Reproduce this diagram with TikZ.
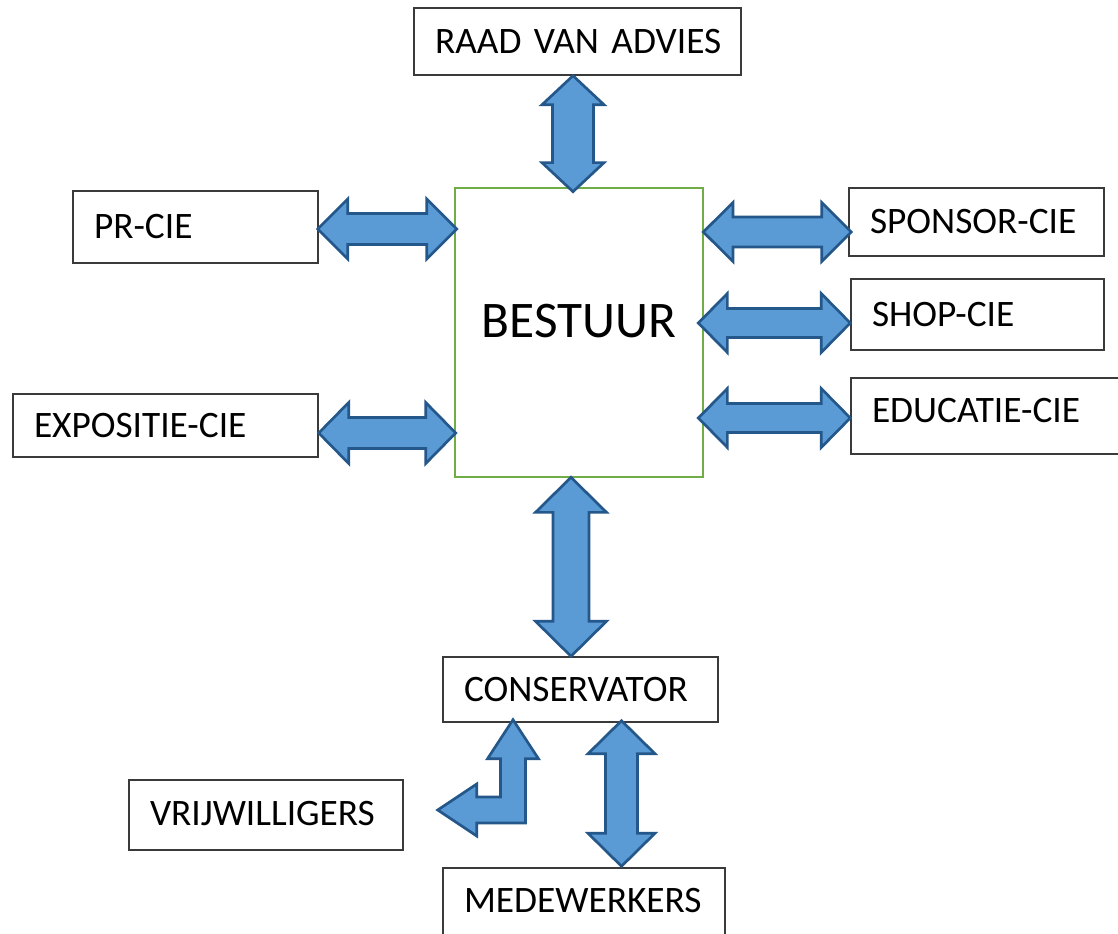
\documentclass[tikz,border=0pt]{standalone}
\usepackage{fontspec}
\setmainfont{Carlito}
\usetikzlibrary{calc}
\definecolor{arrfill}{HTML}{5B9BD5}
\definecolor{arrline}{HTML}{24578A}
\definecolor{bgreen}{HTML}{70AD47}
\definecolor{boxline}{HTML}{3A3A3A}
\tikzset{
  box/.style={draw=boxline, line width=1.1pt, fill=white, rectangle,
    inner xsep=15.75pt, inner ysep=0pt, align=left,
    text height=18pt, text depth=0pt,
    font=\fontsize{28}{34}\selectfont},
  bestbox/.style={draw=bgreen, line width=2pt, fill=white, rectangle,
    inner sep=0pt, text height=24.8pt, text depth=18pt,
    minimum width=186pt, minimum height=216.75pt,
    font=\fontsize{38.5}{46}\selectfont},
  arr/.style={fill=arrfill, draw=arrline, line width=2pt, line join=miter}
}
% horizontal double arrow: #1 left tip, #2 right tip, #3 head length, #4 head half height, #5 shaft half height
\newcommand\hdarr[5]{%
  \path[arr] let \p1=#1, \p2=#2 in
    (\x1,\y1) -- (\x1+#3,\y1+#4) -- (\x1+#3,\y1+#5) -- (\x2-#3,\y1+#5) --
    (\x2-#3,\y1+#4) -- (\x2,\y1) -- (\x2-#3,\y1-#4) -- (\x2-#3,\y1-#5) --
    (\x1+#3,\y1-#5) -- (\x1+#3,\y1-#4) -- cycle;}
% vertical double arrow: #1 top tip, #2 bottom tip, #3 head length, #4 head half width, #5 shaft half width
\newcommand\vdarr[5]{%
  \path[arr] let \p1=#1, \p2=#2 in
    (\x1,\y1) -- (\x1+#4,\y1-#3) -- (\x1+#5,\y1-#3) -- (\x1+#5,\y2+#3) --
    (\x1+#4,\y2+#3) -- (\x1,\y2) -- (\x1-#4,\y2+#3) -- (\x1-#5,\y2+#3) --
    (\x1-#5,\y1-#3) -- (\x1-#4,\y1-#3) -- cycle;}
\begin{document}
\begin{tikzpicture}[x=0.75pt,y=-0.75pt]
\useasboundingbox (0,0) rectangle (1118,934);
\clip (0,0) rectangle (1118,934);
\fill[white] (0,0) rectangle (1118,934);

\node[bestbox] (best) at (579,332.5) {BESTUUR};
\node[box, minimum width=245.25pt, minimum height=50.25pt, text width=213.75pt] (raad) at (577.5,41.5) {\mbox{RAAD VAN ADVIES}};
\node[box, minimum width=183.75pt, minimum height=54pt, text width=152.25pt] (pr) at (195.5,227) {\mbox{PR-CIE}};
\node[box, minimum width=228.75pt, minimum height=47.25pt, text width=197.25pt] (expo) at (165.5,425.5) {\mbox{EXPOSITIE-CIE}};
\node[box, minimum width=191.25pt, minimum height=51pt, text width=159.75pt] (sponsor) at (976.5,222) {\mbox{SPONSOR-CIE}};
\node[box, minimum width=189.75pt, minimum height=53.25pt, text width=158.25pt] (shop) at (977.5,314.5) {\mbox{SHOP-CIE}};
\node[box, minimum width=205.5pt, minimum height=57pt, text width=174pt, text depth=9pt] (educ) at (988,416) {\mbox{EDUCATIE-CIE}};
\node[box, minimum width=206.25pt, minimum height=48.75pt, text width=174.75pt] (cons) at (580.5,689.5) {\mbox{CONSERVATOR}};
\node[box, minimum width=205.5pt, minimum height=52.5pt, text width=174pt, text depth=3pt] (vrij) at (266,815) {\mbox{VRIJWILLIGERS}};
\node[box, minimum width=211.5pt, minimum height=57pt, text width=180pt, text depth=9pt] (mede) at (584,906) {\mbox{MEDEWERKERS}};

% connectors
\vdarr{($(raad.south)+(-4.5,0)$)}{($(best.north)+(0,5)$)}{21.75pt}{23.25pt}{15.4pt}
\hdarr{($(pr.east)+(-1,2)$)}{($(best.west)+(3,0)$)}{22.5pt}{22.5pt}{11.6pt}
\hdarr{($(expo.east)+(0,7.5)$)}{($(best.west)+(2,0)$)}{22.5pt}{22.9pt}{11.6pt}
\hdarr{($(best.east |- sponsor.west)+(-1,10)$)}{($(sponsor.west)+(3,0)$)}{22.2pt}{22.1pt}{11.25pt}
\hdarr{($(best.east |- shop.west)+(-6,8.5)$)}{(shop.west)}{21.75pt}{22.1pt}{10.9pt}
\hdarr{($(best.east |- educ.west)+(-6,2)$)}{(educ.west)}{21.75pt}{22.1pt}{10.9pt}
\vdarr{($(best.south)+(-8,-1)$)}{(cons.north)}{26.25pt}{26.6pt}{13.5pt}
\vdarr{($(cons.south)+(41,-2)$)}{($(mede.north)+(0,-1)$)}{24.75pt}{25.1pt}{12pt}
% bent arrow from CONSERVATOR towards VRIJWILLIGERS
\path[arr] let \p1=($(cons.south)+(-67.5,-3)$), \p2=($(vrij.east)+(34,-5)$) in
  (\x1,\y1) -- (\x1+19.1pt,\y1-29.25pt) -- (\x1+9.4pt,\y1-29.25pt) --
  (\x1+9.4pt,\y2-9.75pt) -- (\x2+29.25pt,\y2-9.75pt) -- (\x2+29.25pt,\y2-19.5pt) --
  (\x2,\y2) -- (\x2+29.25pt,\y2+19.5pt) -- (\x2+29.25pt,\y2+9.75pt) --
  (\x1-9.4pt,\y2+9.75pt) -- (\x1-9.4pt,\y1-29.25pt) -- (\x1-19.1pt,\y1-29.25pt) -- cycle;
\end{tikzpicture}
\end{document}
